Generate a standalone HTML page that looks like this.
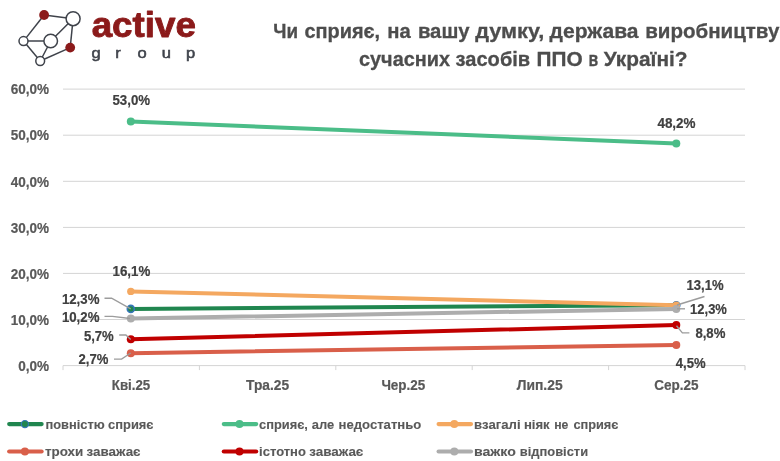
<!DOCTYPE html>
<html lang="uk">
<head>
<meta charset="utf-8">
<title>Active Group chart</title>
<style>
html,body{margin:0;padding:0;background:#fff;}
body{width:780px;height:461px;overflow:hidden;font-family:"Liberation Sans", sans-serif;}
svg{display:block;}
text{font-family:"Liberation Sans", sans-serif;font-weight:bold;}
</style>
</head>
<body>
<svg width="780" height="461" viewBox="0 0 780 461">
<rect width="780" height="461" fill="#ffffff"/>

<g stroke="#3f434b" stroke-width="1.5" fill="none">
<line x1="44.1" y1="15.0" x2="73.1" y2="18.7"/>
<line x1="44.1" y1="15.0" x2="23.5" y2="41.1"/>
<line x1="23.5" y1="41.1" x2="50.7" y2="41.0"/>
<line x1="23.5" y1="41.1" x2="40.2" y2="61.0"/>
<line x1="40.2" y1="61.0" x2="50.7" y2="41.0"/>
<line x1="40.2" y1="61.0" x2="70.2" y2="47.6"/>
<line x1="70.2" y1="47.6" x2="73.1" y2="18.7"/>
<line x1="50.7" y1="41.0" x2="73.1" y2="18.7"/>
</g>
<circle cx="44.1" cy="15.0" r="4.9" fill="#8b1a1a"/>
<circle cx="73.1" cy="18.7" r="7.0" fill="#fff" stroke="#3f434b" stroke-width="1.5"/>
<circle cx="50.7" cy="41.0" r="6.8" fill="#fff" stroke="#3f434b" stroke-width="1.5"/>
<circle cx="23.5" cy="41.1" r="4.5" fill="#fff" stroke="#3f434b" stroke-width="1.5"/>
<circle cx="40.2" cy="61.0" r="4.4" fill="#fff" stroke="#3f434b" stroke-width="1.5"/>
<circle cx="70.2" cy="47.6" r="4.9" fill="#8b1a1a"/>
<text x="91.7" y="37.3" font-size="35.2" fill="#8b1a1a" textLength="104.2" lengthAdjust="spacingAndGlyphs" stroke="#8b1a1a" stroke-width="0.9" stroke-linejoin="round">active</text>
<text transform="scale(1.2,1)" x="80.00 98.25 118.50 138.58 158.83" y="58.1" font-size="13.8" fill="#3f434b" stroke="#3f434b" stroke-width="0.5" text-anchor="middle" style="font-weight:normal">group</text>
<text y="37.8" font-size="21" fill="#4d4d4d" stroke="#4d4d4d" stroke-width="0.3"><tspan x="273.3" textLength="24.8" lengthAdjust="spacingAndGlyphs">Чи</tspan> <tspan x="304.4" textLength="75.7" lengthAdjust="spacingAndGlyphs">сприяє,</tspan> <tspan x="387.2" textLength="23.5" lengthAdjust="spacingAndGlyphs">на</tspan> <tspan x="417.9" textLength="51.7" lengthAdjust="spacingAndGlyphs">вашу</tspan> <tspan x="475.2" textLength="69.2" lengthAdjust="spacingAndGlyphs">думку,</tspan> <tspan x="549.6" textLength="89.0" lengthAdjust="spacingAndGlyphs">держава</tspan> <tspan x="645.2" textLength="134.2" lengthAdjust="spacingAndGlyphs">виробництву</tspan></text>
<text y="66.4" font-size="21" fill="#4d4d4d" stroke="#4d4d4d" stroke-width="0.3"><tspan x="359.0" textLength="91.0" lengthAdjust="spacingAndGlyphs">сучасних</tspan> <tspan x="455.6" textLength="74.6" lengthAdjust="spacingAndGlyphs">засобів</tspan> <tspan x="536.6" textLength="46.1" lengthAdjust="spacingAndGlyphs">ППО</tspan> <tspan x="588.5" textLength="9.7" lengthAdjust="spacingAndGlyphs">в</tspan> <tspan x="603.7" textLength="83.9" lengthAdjust="spacingAndGlyphs">Україні?</tspan></text>
<line x1="63.0" y1="319.5" x2="745.0" y2="319.5" stroke="#d4d4d4" stroke-width="1"/>
<line x1="63.0" y1="273.4" x2="745.0" y2="273.4" stroke="#d4d4d4" stroke-width="1"/>
<line x1="63.0" y1="227.4" x2="745.0" y2="227.4" stroke="#d4d4d4" stroke-width="1"/>
<line x1="63.0" y1="181.3" x2="745.0" y2="181.3" stroke="#d4d4d4" stroke-width="1"/>
<line x1="63.0" y1="135.2" x2="745.0" y2="135.2" stroke="#d4d4d4" stroke-width="1"/>
<line x1="63.0" y1="89.1" x2="745.0" y2="89.1" stroke="#d4d4d4" stroke-width="1"/>
<line x1="63.0" y1="365.6" x2="745.0" y2="365.6" stroke="#d4d4d4" stroke-width="1"/>
<line x1="63.0" y1="365.6" x2="63.0" y2="370.1" stroke="#d4d4d4" stroke-width="1"/>
<line x1="199.4" y1="365.6" x2="199.4" y2="370.1" stroke="#d4d4d4" stroke-width="1"/>
<line x1="335.8" y1="365.6" x2="335.8" y2="370.1" stroke="#d4d4d4" stroke-width="1"/>
<line x1="472.2" y1="365.6" x2="472.2" y2="370.1" stroke="#d4d4d4" stroke-width="1"/>
<line x1="608.6" y1="365.6" x2="608.6" y2="370.1" stroke="#d4d4d4" stroke-width="1"/>
<line x1="745.0" y1="365.6" x2="745.0" y2="370.1" stroke="#d4d4d4" stroke-width="1"/>
<text x="18.2" y="370.8" font-size="14" fill="#595959" textLength="30.9" lengthAdjust="spacingAndGlyphs" stroke="#595959" stroke-width="0.2">0,0%</text>
<text x="10.8" y="324.7" font-size="14" fill="#595959" textLength="38.3" lengthAdjust="spacingAndGlyphs" stroke="#595959" stroke-width="0.2">10,0%</text>
<text x="10.8" y="278.6" font-size="14" fill="#595959" textLength="38.3" lengthAdjust="spacingAndGlyphs" stroke="#595959" stroke-width="0.2">20,0%</text>
<text x="10.8" y="232.6" font-size="14" fill="#595959" textLength="38.3" lengthAdjust="spacingAndGlyphs" stroke="#595959" stroke-width="0.2">30,0%</text>
<text x="10.8" y="186.5" font-size="14" fill="#595959" textLength="38.3" lengthAdjust="spacingAndGlyphs" stroke="#595959" stroke-width="0.2">40,0%</text>
<text x="10.8" y="140.4" font-size="14" fill="#595959" textLength="38.3" lengthAdjust="spacingAndGlyphs" stroke="#595959" stroke-width="0.2">50,0%</text>
<text x="10.8" y="94.3" font-size="14" fill="#595959" textLength="38.3" lengthAdjust="spacingAndGlyphs" stroke="#595959" stroke-width="0.2">60,0%</text>
<text x="111.8" y="389.9" font-size="14" fill="#595959" textLength="38.4" lengthAdjust="spacingAndGlyphs" stroke="#595959" stroke-width="0.2">Кві.25</text>
<text x="246.1" y="389.9" font-size="14" fill="#595959" textLength="43.0" lengthAdjust="spacingAndGlyphs" stroke="#595959" stroke-width="0.2">Тра.25</text>
<text x="381.4" y="389.9" font-size="14" fill="#595959" textLength="43.9" lengthAdjust="spacingAndGlyphs" stroke="#595959" stroke-width="0.2">Чер.25</text>
<text x="516.8" y="389.9" font-size="14" fill="#595959" textLength="45.8" lengthAdjust="spacingAndGlyphs" stroke="#595959" stroke-width="0.2">Лип.25</text>
<text x="654.3" y="389.9" font-size="14" fill="#595959" textLength="44.3" lengthAdjust="spacingAndGlyphs" stroke="#595959" stroke-width="0.2">Сер.25</text>
<line x1="130.8" y1="308.9" x2="676.3" y2="305.2" stroke="#20864f" stroke-width="4.0" stroke-linecap="round"/>
<circle cx="130.8" cy="308.9" r="3.5" fill="#20864f" stroke="#3576b8" stroke-width="1.6"/>
<circle cx="676.3" cy="305.2" r="3.5" fill="#20864f" stroke="#3576b8" stroke-width="1.6"/>
<line x1="130.8" y1="121.4" x2="676.3" y2="143.5" stroke="#4bbd88" stroke-width="4.0" stroke-linecap="round"/>
<circle cx="130.8" cy="121.4" r="4" fill="#4bbd88"/>
<circle cx="676.3" cy="143.5" r="4" fill="#4bbd88"/>
<line x1="130.8" y1="291.4" x2="676.3" y2="305.2" stroke="#f4a860" stroke-width="4.0" stroke-linecap="round"/>
<circle cx="130.8" cy="291.4" r="3.7" fill="#f4a860"/>
<circle cx="676.3" cy="305.2" r="3.7" fill="#f4a860"/>
<line x1="130.8" y1="353.2" x2="676.3" y2="344.9" stroke="#d95f4a" stroke-width="4.0" stroke-linecap="round"/>
<circle cx="130.8" cy="353.2" r="4" fill="#d95f4a"/>
<circle cx="676.3" cy="344.9" r="4" fill="#d95f4a"/>
<line x1="130.8" y1="339.3" x2="676.3" y2="325.0" stroke="#c00000" stroke-width="4.0" stroke-linecap="round"/>
<circle cx="130.8" cy="339.3" r="4" fill="#c00000"/>
<circle cx="676.3" cy="325.0" r="4" fill="#c00000"/>
<line x1="130.8" y1="318.6" x2="676.3" y2="308.9" stroke="#adadad" stroke-width="4.0" stroke-linecap="round"/>
<circle cx="130.8" cy="318.6" r="4" fill="#adadad"/>
<circle cx="676.3" cy="308.9" r="4" fill="#adadad"/>
<polyline points="104.5,298.2 111.6,298.2 130.7,308.8" fill="none" stroke="#9c9c9c" stroke-width="1.35"/>
<polyline points="104.5,316.3 112.5,316.3 130.0,318.5" fill="none" stroke="#9c9c9c" stroke-width="1.35"/>
<polyline points="119.2,335.0 125.9,335.0 130.7,339.6" fill="none" stroke="#9c9c9c" stroke-width="1.35"/>
<polyline points="114.0,359.1 121.6,359.1 130.7,353.0" fill="none" stroke="#9c9c9c" stroke-width="1.35"/>
<polyline points="704.5,296.5 677.0,305.0" fill="none" stroke="#9c9c9c" stroke-width="1.35"/>
<polyline points="677.0,308.8 685.0,308.8" fill="none" stroke="#9c9c9c" stroke-width="1.35"/>
<polyline points="676.5,325.8 682.4,332.9 689.4,332.9" fill="none" stroke="#9c9c9c" stroke-width="1.35"/>
<text x="112.5" y="105.1" font-size="14" fill="#404040" textLength="37.6" lengthAdjust="spacingAndGlyphs" stroke="#404040" stroke-width="0.2">53,0%</text>
<text x="657.4" y="127.8" font-size="14" fill="#404040" textLength="38.2" lengthAdjust="spacingAndGlyphs" stroke="#404040" stroke-width="0.2">48,2%</text>
<text x="112.5" y="275.9" font-size="14" fill="#404040" textLength="37.8" lengthAdjust="spacingAndGlyphs" stroke="#404040" stroke-width="0.2">16,1%</text>
<text x="61.9" y="303.8" font-size="14" fill="#404040" textLength="37.5" lengthAdjust="spacingAndGlyphs" stroke="#404040" stroke-width="0.2">12,3%</text>
<text x="61.9" y="321.7" font-size="14" fill="#404040" textLength="37.5" lengthAdjust="spacingAndGlyphs" stroke="#404040" stroke-width="0.2">10,2%</text>
<text x="83.9" y="340.5" font-size="14" fill="#404040" textLength="29.9" lengthAdjust="spacingAndGlyphs" stroke="#404040" stroke-width="0.2">5,7%</text>
<text x="78.5" y="364.1" font-size="14" fill="#404040" textLength="29.8" lengthAdjust="spacingAndGlyphs" stroke="#404040" stroke-width="0.2">2,7%</text>
<text x="686.5" y="290.0" font-size="14" fill="#404040" textLength="37.1" lengthAdjust="spacingAndGlyphs" stroke="#404040" stroke-width="0.2">13,1%</text>
<text x="690.1" y="314.0" font-size="14" fill="#404040" textLength="36.8" lengthAdjust="spacingAndGlyphs" stroke="#404040" stroke-width="0.2">12,3%</text>
<text x="695.4" y="338.0" font-size="14" fill="#404040" textLength="30.0" lengthAdjust="spacingAndGlyphs" stroke="#404040" stroke-width="0.2">8,8%</text>
<text x="675.8" y="367.9" font-size="14" fill="#404040" textLength="29.8" lengthAdjust="spacingAndGlyphs" stroke="#404040" stroke-width="0.2">4,5%</text>
<line x1="9.2" y1="424.1" x2="41.6" y2="424.1" stroke="#20864f" stroke-width="4.2" stroke-linecap="round"/>
<circle cx="24.9" cy="424.1" r="3.6" fill="#20864f" stroke="#3576b8" stroke-width="1.2"/>
<text y="428.5" font-size="13.6" fill="#595959" stroke="#595959" stroke-width="0.12"><tspan x="45.5" textLength="59.2" lengthAdjust="spacingAndGlyphs">повністю</tspan> <tspan x="108.1" textLength="45.4" lengthAdjust="spacingAndGlyphs">сприяє</tspan></text>
<line x1="223.8" y1="424.1" x2="256.2" y2="424.1" stroke="#4bbd88" stroke-width="4.2" stroke-linecap="round"/>
<circle cx="239.5" cy="424.1" r="4" fill="#4bbd88"/>
<text y="428.5" font-size="13.6" fill="#595959" stroke="#595959" stroke-width="0.12"><tspan x="259.1" textLength="48.8" lengthAdjust="spacingAndGlyphs">сприяє,</tspan> <tspan x="311.8" textLength="22.4" lengthAdjust="spacingAndGlyphs">але</tspan> <tspan x="338.6" textLength="82.7" lengthAdjust="spacingAndGlyphs">недостатньо</tspan></text>
<line x1="438.6" y1="424.1" x2="471.0" y2="424.1" stroke="#f4a860" stroke-width="4.2" stroke-linecap="round"/>
<circle cx="454.3" cy="424.1" r="4" fill="#f4a860"/>
<text y="428.5" font-size="13.6" fill="#595959" stroke="#595959" stroke-width="0.12"><tspan x="474.0" textLength="46.6" lengthAdjust="spacingAndGlyphs">взагалі</tspan> <tspan x="523.9" textLength="25.8" lengthAdjust="spacingAndGlyphs">ніяк</tspan> <tspan x="554.2" textLength="14.2" lengthAdjust="spacingAndGlyphs">не</tspan> <tspan x="573.4" textLength="45.0" lengthAdjust="spacingAndGlyphs">сприяє</tspan></text>
<line x1="9.2" y1="451.5" x2="41.6" y2="451.5" stroke="#d95f4a" stroke-width="4.2" stroke-linecap="round"/>
<circle cx="24.9" cy="451.5" r="4" fill="#d95f4a"/>
<text y="456.0" font-size="13.6" fill="#595959" stroke="#595959" stroke-width="0.12"><tspan x="45.0" textLength="38.3" lengthAdjust="spacingAndGlyphs">трохи</tspan> <tspan x="86.6" textLength="53.9" lengthAdjust="spacingAndGlyphs">заважає</tspan></text>
<line x1="223.8" y1="451.5" x2="256.2" y2="451.5" stroke="#c00000" stroke-width="4.2" stroke-linecap="round"/>
<circle cx="239.5" cy="451.5" r="4" fill="#c00000"/>
<text y="456.0" font-size="13.6" fill="#595959" stroke="#595959" stroke-width="0.12"><tspan x="259.1" textLength="46.8" lengthAdjust="spacingAndGlyphs">істотно</tspan> <tspan x="309.2" textLength="54.1" lengthAdjust="spacingAndGlyphs">заважає</tspan></text>
<line x1="438.6" y1="451.5" x2="471.0" y2="451.5" stroke="#adadad" stroke-width="4.2" stroke-linecap="round"/>
<circle cx="454.3" cy="451.5" r="4" fill="#adadad"/>
<text y="456.0" font-size="13.6" fill="#595959" stroke="#595959" stroke-width="0.12"><tspan x="474.0" textLength="41.9" lengthAdjust="spacingAndGlyphs">важко</tspan> <tspan x="519.8" textLength="68.3" lengthAdjust="spacingAndGlyphs">відповісти</tspan></text>
</svg>
</body>
</html>
